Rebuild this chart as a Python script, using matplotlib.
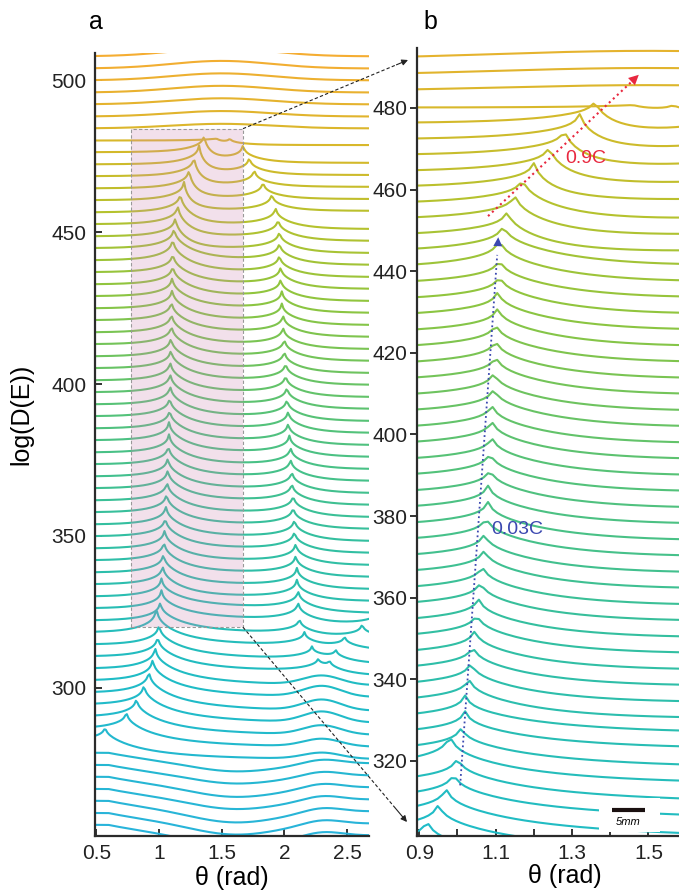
import numpy as np
import matplotlib
matplotlib.use("Agg")
import matplotlib.pyplot as plt
from matplotlib.colors import LinearSegmentedColormap
from matplotlib.patches import Rectangle
from matplotlib.lines import Line2D

plt.rcParams['font.family'] = ['Liberation Sans', 'DejaVu Sans']

nan = np.nan

# offset of every trace (its level at the left edge), bottom -> top
offsets = [251.0, 255.0, 258.9, 262.9, 266.8, 270.8, 274.7, 278.7, 282.6, 286.6,
           290.5, 294.5, 298.4, 302.4, 306.3, 310.3, 314.2, 318.2, 322.1, 326.1,
           330.0, 334.0, 337.9, 341.9, 345.8, 349.8, 353.7, 357.7, 361.6, 365.6,
           369.5, 373.5, 377.4, 381.4, 385.3, 389.3, 393.2, 397.2, 401.1, 405.1,
           409.0, 413.0, 416.9, 420.9, 424.8, 428.8, 432.7, 436.7, 440.6, 444.6,
           448.5, 452.5, 456.4, 460.4, 464.3, 468.3, 472.2, 476.2, 480.1, 484.1,
           488.0, 492.0, 495.9, 499.9, 503.8, 507.8]

# first (left) resonance of each trace, theta in rad, and its height
left_theta = [nan] * 8 + [
    0.57, 0.74, 0.82, 0.88, 0.92, 0.95, 0.97, 0.99, 1.00, 0.98,
    1.01, 1.02, 1.02, 1.03, 1.035, 1.04, 1.045, 1.05, 1.055, 1.06,
    1.065, 1.07, 1.07, 1.075, 1.08, 1.08, 1.085, 1.085, 1.09, 1.09,
    1.09, 1.095, 1.095, 1.10, 1.10, 1.10, 1.105, 1.105, 1.11, 1.11,
    1.11, 1.12, 1.13, 1.15, 1.17, 1.20, 1.24, 1.28, 1.32, 1.36, 1.46] + [nan] * 7
left_amp = [0] * 8 + [
    4.5, 5.5, 6.0, 6.5, 7.0, 7.0, 7.0, 6.5, 6.5, 8.0] + [6.0] * 30 + [
    7.0, 6.5, 6.0, 6.0, 6.0, 6.0, 6.0, 6.0, 6.0, 5.0] + [0] * 7

# second (right) resonance
right_theta = [nan] * 15 + [
    2.27, 2.22, 2.16, 2.12,
    2.11, 2.11, 2.10, 2.10, 2.09, 2.09, 2.08, 2.08, 2.07, 2.07,
    2.06, 2.06, 2.05, 2.05, 2.04, 2.03, 2.03, 2.02, 2.02, 2.01,
    2.01, 2.00, 2.00, 1.99, 1.99, 1.98, 1.98, 1.97, 1.97, 1.96,
    1.96, 1.96, 1.95, 1.93, 1.90, 1.83, 1.76, 1.72, 1.67, 1.565] + [nan] * 7
right_amp = [0] * 15 + [3.0, 3.5, 4.0, 4.5] + [5.5] * 39 + [2.0] + [0] * 7

# extra small cusps (split resonance near theta=2.3)
extra_curve = [15, 16, 17, 18, 19]
extra_theta = [2.36, 2.41, 2.48, 2.62, 2.76]
extra_amp = [3.0, 3.5, 4.0, 4.5, 5.0]

# level drop behind the left resonance and how fast it happens
sag = [3.5] * 8 + [6, 6, 6, 6, 6, 5.5, 5.5, 5, 5, 4.5, 4.5, 4, 4] + [4.0] * 32 + \
      [3.5] * 5 + [1.5] + [0] * 7
sag_width = [0.45] * 21 + [0.25] * 29 + [0.1] * 3 + [0.05] * 6 + [0.3] * 7

# smooth dip around theta=1.6 for the lowest traces
dip = {0: 4.0, 1: 4.0, 2: 4.0, 3: 4.0, 4: 3.5, 5: 3.5, 6: 3.0, 7: 3.0}
# smooth bump near theta=2.3
bump = {0: 1.5, 1: 1.5, 2: 1.5, 3: 1.5, 4: 1.5, 5: 1.5, 6: 1.5, 7: 1.5,
        8: 2.0, 9: 2.5, 10: 3.0, 11: 3.5, 12: 3.5, 13: 3.5, 14: 3.0}
# broad hump of the top traces
hump = {59: 1.5, 60: 1.8, 61: 2.0, 62: 2.2, 63: 2.3, 64: 2.5, 65: 2.6}

theta = np.arange(0.48, 2.71, 0.012)


def cusp(d, a):
    return a * (0.5 / (1 + np.abs(d) / 0.015) + 0.5 * np.exp(-np.abs(d) / 0.15))


def trace(i):
    y = np.full_like(theta, offsets[i])
    start = 0.6
    if not np.isnan(left_theta[i]):
        y += cusp(theta - left_theta[i], left_amp[i])
        start = left_theta[i]
    y -= sag[i] * (1 - np.exp(-np.clip(theta - start, 0, None) / sag_width[i]))
    if not np.isnan(right_theta[i]):
        y += cusp(theta - right_theta[i], right_amp[i])
        if i < 53:
            y -= 1.5 * (1 - np.exp(-np.clip(theta - right_theta[i], 0, None) / 0.2))
    for c, t, a in zip(extra_curve, extra_theta, extra_amp):
        if c == i:
            y += cusp(theta - t, a)
    y -= dip.get(i, 0) * np.exp(-0.5 * ((theta - 1.6) / 0.35) ** 2)
    y += bump.get(i, 0) * np.exp(-0.5 * ((theta - 2.3) / 0.15) ** 2)
    y += hump.get(i, 0) * np.exp(-0.5 * ((theta - 1.5) / 0.4) ** 2)
    return y


cmap = LinearSegmentedColormap.from_list('trace', [
    (0.0, '#2ab3dc'), (0.2, '#1fbcc6'), (0.4, '#34bf9f'), (0.55, '#56c277'),
    (0.7, '#8dc540'), (0.8, '#b5c22e'), (0.88, '#d4b92a'), (1.0, '#f5ad32')])

fig = plt.figure(figsize=(6.79, 8.94), dpi=100)
ax_a = fig.add_axes([95 / 679, 58 / 894, 274 / 679, 783 / 894])
ax_b = fig.add_axes([417 / 679, 58 / 894, 262 / 679, 788 / 894])

n = len(offsets)
for i in range(n):
    y = trace(i)
    col = cmap(i / (n - 1))
    ax_a.plot(theta, y, color=col, lw=1.5, zorder=2)
    ax_b.plot(theta, y, color=col, lw=1.5, zorder=2)

for ax in (ax_a, ax_b):
    ax.spines['top'].set_visible(False)
    ax.spines['right'].set_visible(False)
    ax.spines['left'].set_linewidth(1.6)
    ax.spines['bottom'].set_linewidth(1.6)
    ax.spines['left'].set_color('#2b2b2b')
    ax.spines['bottom'].set_color('#2b2b2b')
    ax.tick_params(labelsize=15, width=1.3, length=5, colors='#222222')
    ax.set_xlabel('θ (rad)', fontsize=18, labelpad=2)

# panel a
ax_a.set_xlim(0.49, 2.675)
ax_a.set_ylim(251.3, 508.9)
ax_a.set_xticks([0.5, 1, 1.5, 2, 2.5])
ax_a.set_xticklabels(['0.5', '1', '1.5', '2', '2.5'])
ax_a.set_yticks([300, 350, 400, 450, 500])
ax_a.tick_params(direction='in', pad=6)
ax_a.set_ylabel('log(D(E))', fontsize=18)
ax_a.yaxis.set_label_coords(-0.226, 0.538)
ax_a.add_patch(Rectangle((0.78, 320), 0.89, 164, facecolor='#cf87b3', alpha=0.25,
                         edgecolor='none', zorder=3))
ax_a.add_patch(Rectangle((0.78, 320), 0.89, 164, facecolor='none', edgecolor='#999999',
                         lw=0.8, ls=(0, (3, 2)), zorder=3))

# panel b
ax_b.set_xlim(0.894, 1.58)
ax_b.set_ylim(301.6, 494.7)
ax_b.set_xticks([0.9, 1.0, 1.1, 1.2, 1.3, 1.4, 1.5])
ax_b.set_xticklabels(['0.9', '', '1.1', '', '1.3', '', '1.5'])
ax_b.set_yticks([320, 340, 360, 380, 400, 420, 440, 460, 480])
ax_b.tick_params(axis='x', direction='in', pad=6)
ax_b.tick_params(axis='y', direction='out', pad=2)
ax_b.xaxis.set_label_coords(0.565, -0.035)

# growth paths of the resonances
blue = '#3b48b0'
red = '#e8283f'
ax_b.plot([1.007, 1.104], [314.0, 444.0], ls=':', color=blue, lw=1.3, zorder=4)
ax_b.annotate('', xy=(1.107, 449.0), xytext=(1.104, 443.0),
              arrowprops=dict(arrowstyle='-|>', color=blue, lw=0, mutation_scale=16), zorder=5)
ax_b.text(1.157, 376.8, '0.03C', color=blue, fontsize=14, ha='center', va='center', zorder=5)
ax_b.plot([1.08, 1.46], [453.5, 486.8], ls=':', color=red, lw=1.5, zorder=4)
ax_b.annotate('', xy=(1.48, 488.6), xytext=(1.455, 486.4),
              arrowprops=dict(arrowstyle='-|>', color=red, lw=0, mutation_scale=18), zorder=5)
ax_b.text(1.337, 467.7, '0.9C', color=red, fontsize=14, ha='center', va='center', zorder=5)

# scale bar
ax_b.add_patch(Rectangle((1.37, 302.5), 0.16, 8.5, facecolor='white', edgecolor='none', zorder=4))
ax_b.plot([1.405, 1.491], [307.9, 307.9], color='#1a1010', lw=3, solid_capstyle='butt', zorder=5)
ax_b.text(1.448, 305.0, '5mm', fontsize=8, style='italic', ha='center', va='center', zorder=5)

# zoom connectors from panel a box to panel b
inv = fig.transFigure.inverted()
for corner, end in [((1.67, 484), (408, 60)), ((1.67, 320), (407, 822))]:
    p0 = inv.transform(ax_a.transData.transform(corner))
    p1 = (end[0] / 679, 1 - end[1] / 894)
    mid = (p0[0] + 0.93 * (p1[0] - p0[0]), p0[1] + 0.93 * (p1[1] - p0[1]))
    fig.add_artist(Line2D([p0[0], mid[0]], [p0[1], mid[1]], transform=fig.transFigure,
                          color='#222222', lw=0.8, ls=(0, (3, 2))))
    ax_a.annotate('', xy=p1, xycoords='figure fraction', xytext=mid, textcoords='figure fraction',
                  arrowprops=dict(arrowstyle='-|>', color='#222222', lw=0.8, mutation_scale=9,
                                  shrinkA=0, shrinkB=0), annotation_clip=False)

fig.text(96 / 679, 1 - 22 / 894, 'a', fontsize=18, ha='center', va='center')
fig.text(430 / 679, 1 - 22 / 894, 'b', fontsize=18, ha='center', va='center')

fig.savefig('out.png', dpi=100)
